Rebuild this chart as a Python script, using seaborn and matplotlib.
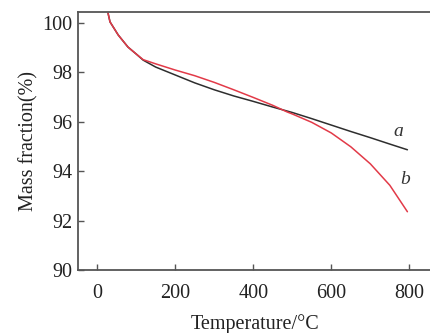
import numpy as np
import pandas as pd
import matplotlib
matplotlib.use("Agg")
import matplotlib.pyplot as plt
import seaborn as sns

# TG curves of two samples
temp_a = [28, 33, 54, 79, 100, 118, 150, 200, 250, 300, 350, 400,
          450, 500, 550, 600, 650, 700, 750, 795]
mass_a = [100.4, 100.05, 99.52, 99.03, 98.75, 98.5, 98.22, 97.9, 97.58, 97.3,
          97.05, 96.83, 96.6, 96.38, 96.13, 95.87, 95.61, 95.36, 95.1, 94.87]

temp_b = [28, 33, 54, 79, 100, 118, 150, 200, 250, 300, 350, 400,
          450, 487, 500, 550, 600, 650, 700, 750, 795]
mass_b = [100.4, 100.05, 99.52, 99.03, 98.75, 98.52, 98.35, 98.1, 97.87, 97.6,
          97.3, 96.99, 96.67, 96.4, 96.32, 95.98, 95.55, 94.99, 94.3, 93.43, 92.36]

series_names = ["a", "b"]
x_ticks = [0, 200, 400, 600, 800]
y_ticks = [90, 92, 94, 96, 98, 100]

df = pd.concat([
    pd.DataFrame({"T": temp_a, "m": mass_a, "s": "a"}),
    pd.DataFrame({"T": temp_b, "m": mass_b, "s": "b"}),
], ignore_index=True)

sns.set_style("ticks")
plt.rcParams["font.family"] = ["Liberation Serif", "DejaVu Serif"]

fig = plt.figure(figsize=(4.30, 3.33), dpi=100)
ax = fig.add_axes([78 / 430, 1 - 270 / 333, (432 - 78) / 430, (270 - 12) / 333])

sns.lineplot(data=df, x="T", y="m", hue="s", hue_order=series_names,
             palette={"a": "#2e2e2e", "b": "#e23a48"}, linewidth=1.1,
             legend=False, ax=ax, sort=False)

ax.set_xlim(-49, 858)
ax.set_ylim(90, 100.45)
ax.set_xticks(x_ticks)
ax.set_yticks(y_ticks)
ax.tick_params(direction="in", length=4, width=1.0, colors="#555555",
               labelcolor="#222222", labelsize=14.5, pad=4)
ax.tick_params(axis="x", pad=10)
for side in ["left", "bottom", "top", "right"]:
    ax.spines[side].set_visible(True)
    ax.spines[side].set_color("#555555")
    ax.spines[side].set_linewidth(1.3)

ax.set_xlabel("Temperature/°C", fontsize=14.5, color="#222222", labelpad=8)
ax.set_ylabel("Mass fraction(%)", fontsize=14.5, color="#222222", labelpad=3)

ax.text(772, 95.6, "a", style="italic", fontsize=14,
        ha="center", va="center", color="#333333")
ax.text(790, 93.66, "b", style="italic", fontsize=14,
        ha="center", va="center", color="#333333")

fig.savefig("out.png", dpi=100)
